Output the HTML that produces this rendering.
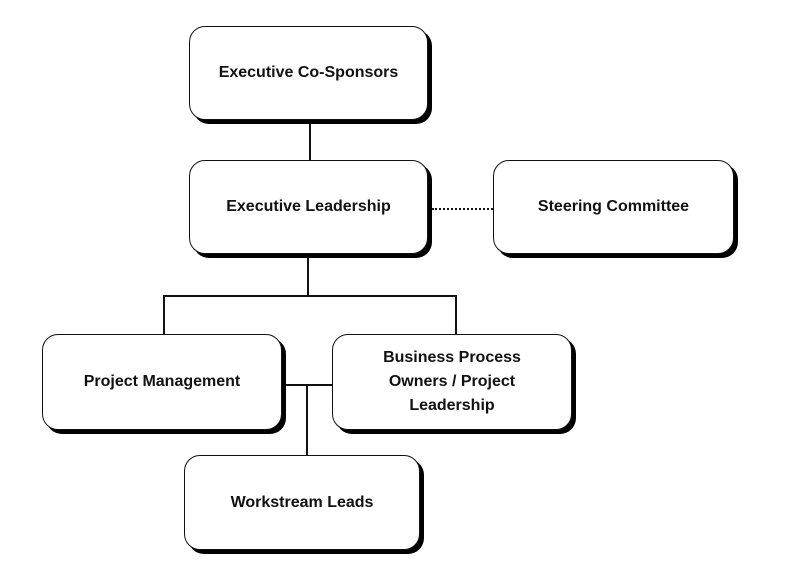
<!DOCTYPE html>
<html><head><style>
body{margin:0;width:786px;height:580px;background:#fff;position:relative;overflow:hidden;font-family:"Liberation Sans",sans-serif}
.b{position:absolute;box-sizing:border-box;border:1.5px solid #111;border-radius:16px;background:#fff;box-shadow:4px 4px 0 #000;display:flex;align-items:center;justify-content:center;text-align:center;font-weight:bold;font-size:16px;color:#111;line-height:24px}
.l{position:absolute;background:#111}
</style></head><body>
<div class="l" style="left:309px;top:120px;width:2px;height:40px"></div>
<div class="l" style="left:307px;top:254px;width:2px;height:42px"></div>
<div class="l" style="left:163px;top:295px;width:294px;height:2px"></div>
<div class="l" style="left:163px;top:295px;width:2px;height:39px"></div>
<div class="l" style="left:455px;top:295px;width:2px;height:39px"></div>
<div class="l" style="left:282px;top:384px;width:50px;height:2px"></div>
<div class="l" style="left:306px;top:384px;width:2px;height:71px"></div>
<div style="position:absolute;left:432px;top:208px;width:61px;border-top:2px dotted #111"></div>
<div class="b" style="left:189px;top:26px;width:239px;height:94px">Executive Co-Sponsors</div>
<div class="b" style="left:189px;top:160px;width:239px;height:94px">Executive Leadership</div>
<div class="b" style="left:493px;top:160px;width:241px;height:94px">Steering Committee</div>
<div class="b" style="left:42px;top:334px;width:240px;height:96px">Project Management</div>
<div class="b" style="left:332px;top:334px;width:240px;height:96px">Business Process<br>Owners / Project<br>Leadership</div>
<div class="b" style="left:184px;top:455px;width:236px;height:95px">Workstream Leads</div>
</body></html>
